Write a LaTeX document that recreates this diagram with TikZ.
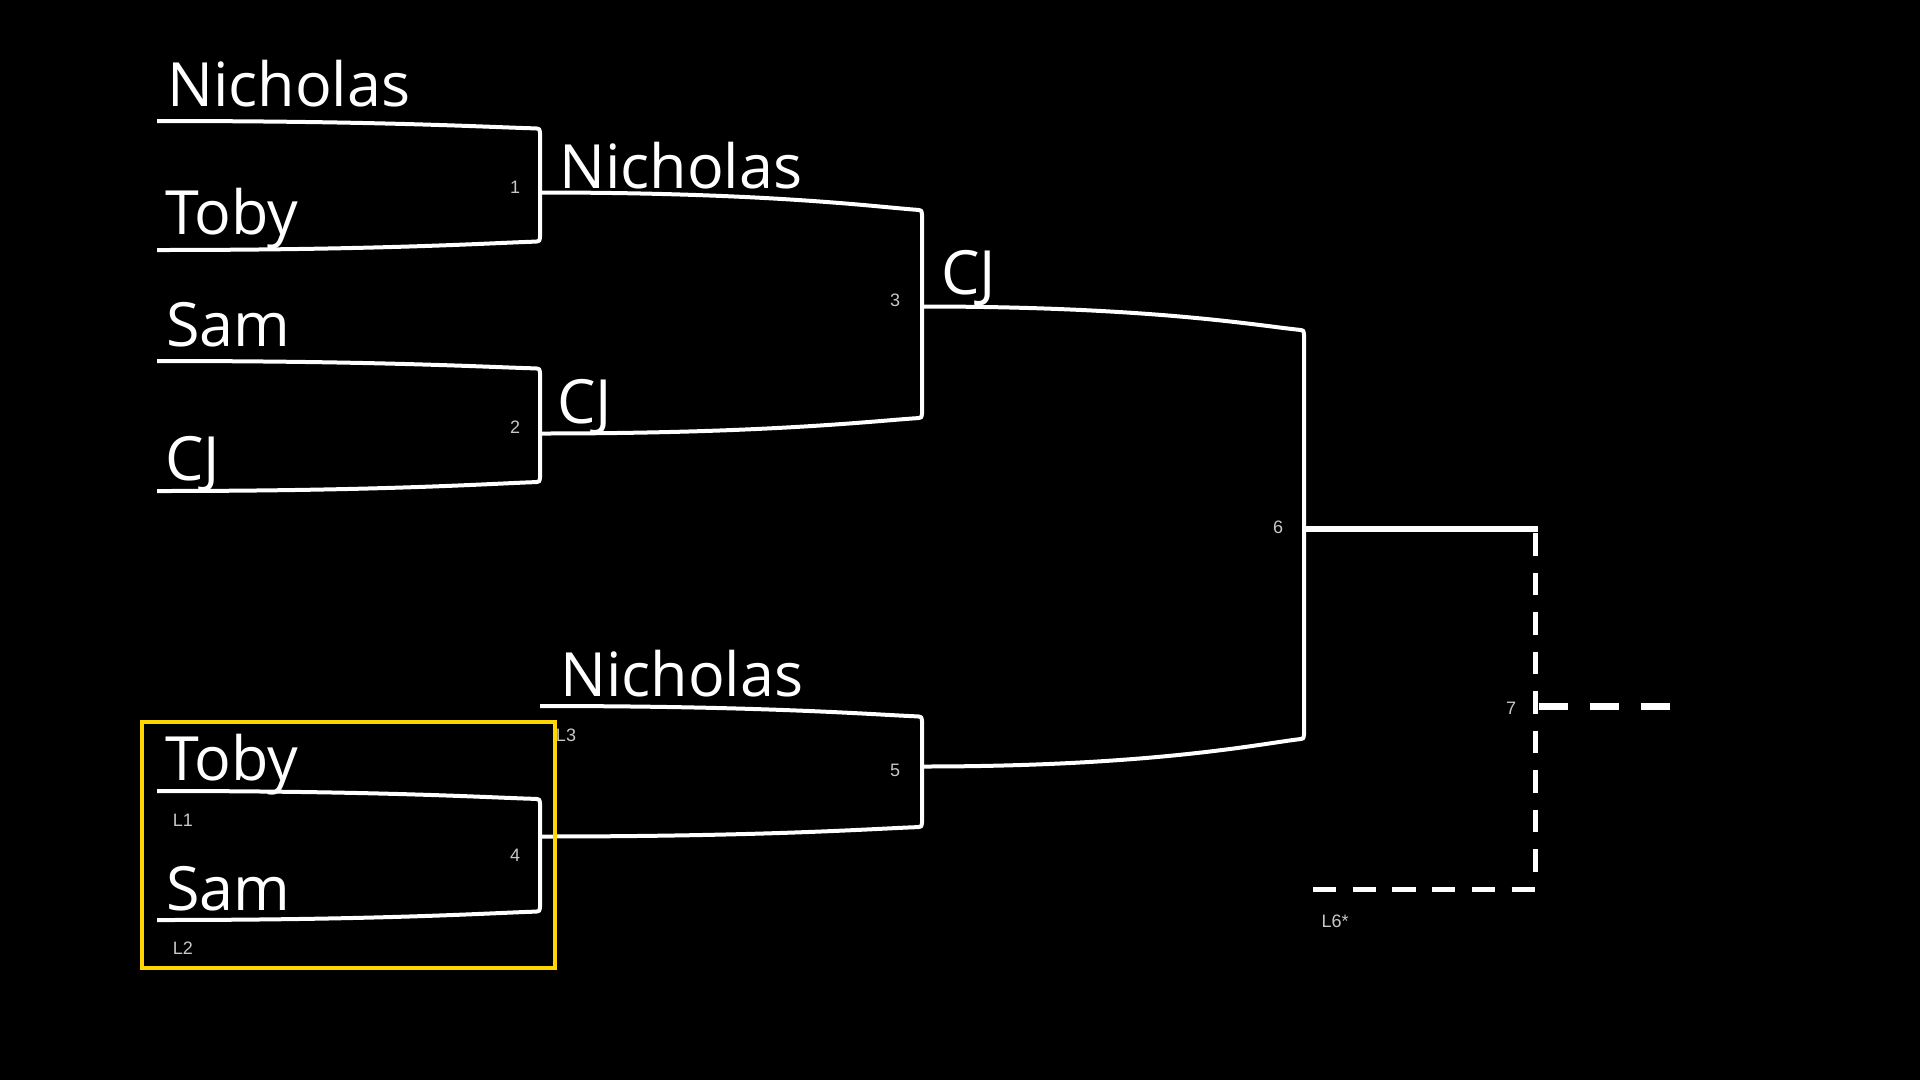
\documentclass[tikz,border=0pt]{standalone}
\usepackage{fontspec}
\setmainfont{Open Sans}
\newfontfamily\smallfont{Liberation Sans}
\usetikzlibrary{calc}
\definecolor{lbl}{RGB}{200,200,200}
\definecolor{gold}{RGB}{255,214,0}
\tikzset{
  player/.style={font=\fontsize{61}{68}\selectfont, text=white, anchor=base west, inner sep=0pt},
  num/.style={font=\smallfont\fontsize{18}{20}\selectfont, text=lbl, inner sep=0pt},
  bline/.style={draw=white, line width=4pt},
  dline/.style={draw=white, line width=5.5pt, dash pattern=on 22.5pt off 17pt},
}
% #1 xl, #2 xr, #3 y top-left, #4 top drop, #5 y bottom-left, #6 bottom rise
\newcommand\bracketdraw[6]{%
  \draw[bline] (#1,#3) .. controls ({#1+0.6*(#2-#1)},#3) and ({#2-0.12*(#2-#1)},{#3+0.8*#4}) .. ({#2-4},{#3+#4-0.6})
    .. controls ({#2-0.5},{#3+#4}) .. (#2,{#3+#4+4}) -- (#2,{#5-#6-4})
    .. controls ({#2-0.5},{#5-#6}) .. ({#2-4},{#5-#6+0.6})
    .. controls ({#2-0.12*(#2-#1)},{#5-0.8*#6}) and ({#1+0.6*(#2-#1)},#5) .. (#1,#5);
}
\begin{document}
\begin{tikzpicture}[x=1pt,y=-1pt]
\useasboundingbox[fill=black] (0,0) rectangle (1920,1080);

% brackets
\bracketdraw{157}{540}{121}{8}{250}{9}
\bracketdraw{157}{540}{361}{8}{491}{9.5}
\bracketdraw{540}{922}{192.5}{18}{433.5}{16}
\bracketdraw{922}{1304}{306.5}{24}{766.5}{28}
\bracketdraw{157}{540}{791}{8.5}{920}{9}
\bracketdraw{540}{922}{706}{11}{836.5}{10}

% final
\coordinate (f6) at (1304,529);
\coordinate (f7top) at (1535.5,529);
\coordinate (f7bot) at (1535.5,889);
\coordinate (f7mid) at (1535.5,706.5);
\coordinate (fout) at (1672,706.5);
\coordinate (floser) at (1313,889);
\draw[draw=white, line width=5.5pt] (f6) -- ($(f7top)+(2.75,0)$);
\draw[dline] ($(f7top)+(0,4)$) -- ($(f7bot)+(0,-16)$);
\draw[draw=white, line width=5pt, dash pattern=on 23.3pt off 16.4pt] (floser) -- (f7bot);
\draw[draw=white, line width=7pt, dash pattern=on 29pt off 22pt] ($(f7mid)+(3,0)$) -- (fout);

% names
\node[player] (p1) at (167,106.7) {Nicholas};
\node[player] (p2) at (165,234.3) {Toby};
\node[player] (p3) at (166,346.7) {Sam};
\node[player] (p4) at (165,480) {CJ};
\node[player] (w1) at (559,188.3) {Nicholas};
\node[player] (w2) at (557,423.3) {CJ};
\node[player] (w3) at (941,294) {CJ};
\node[player] (w5) at (560,696.7) {Nicholas};
\node[player] (p5) at (165,780.7) {Toby};
\node[player] (p6) at (166,910) {Sam};

% match numbers and loser labels
\node[num] (m1) at (515,187) {1};
\node[num] (m2) at (515,427) {2};
\node[num] (m3) at (895,300) {3};
\node[num] (m4) at (515,855) {4};
\node[num] (m5) at (895,770) {5};
\node[num] (m6) at (1278,527) {6};
\node[num] (m7) at (1511,708) {7};
\node[num] (l1) at (183,820) {L1};
\node[num] (l2) at (183,948) {L2};
\node[num] (l3) at (566,735) {L3};
\node[num] (l6) at (1335,921) {L6*};

% highlight box
\draw[draw=gold, line width=4pt] (141.5,721.5) rectangle (555,967.5);
\end{tikzpicture}
\end{document}
